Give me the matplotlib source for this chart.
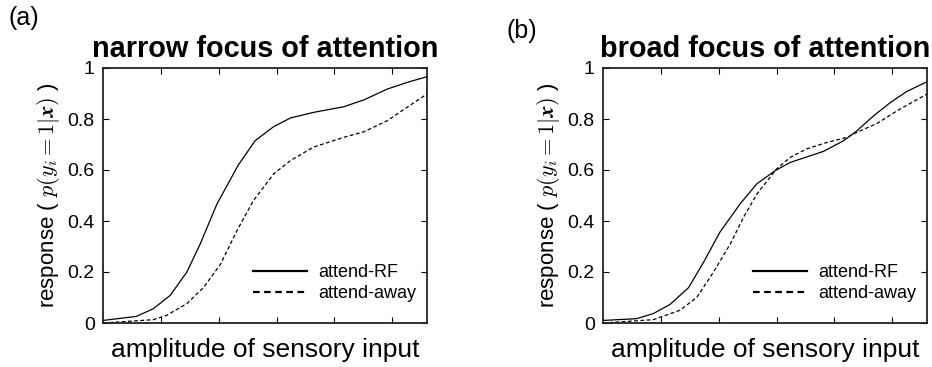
import matplotlib
matplotlib.use("Agg")
import matplotlib.pyplot as plt

plt.rcParams['font.family'] = ['Liberation Sans', 'DejaVu Sans']
plt.rcParams['mathtext.fontset'] = 'cm'

# ---- data ----
a_rf_x = [0, 0.58, 0.87, 1.16, 1.45, 1.68, 1.97, 2.34, 2.63, 2.95, 3.24, 3.64, 4.16, 4.51, 4.91, 5.25, 5.6]
a_rf_y = [0.01, 0.026, 0.056, 0.108, 0.20, 0.31, 0.467, 0.62, 0.715, 0.77, 0.804, 0.826, 0.848, 0.875, 0.917, 0.943, 0.966]
a_aw_x = [0, 0.87, 1.10, 1.45, 1.74, 2.03, 2.31, 2.60, 2.95, 3.24, 3.64, 4.16, 4.51, 4.91, 5.25, 5.6]
a_aw_y = [0.0, 0.013, 0.03, 0.076, 0.14, 0.23, 0.36, 0.48, 0.585, 0.637, 0.69, 0.728, 0.75, 0.793, 0.845, 0.898]

b_rf_x = [0, 0.58, 0.87, 1.16, 1.48, 1.74, 2.02, 2.37, 2.66, 2.98, 3.24, 3.81, 4.16, 4.39, 4.68, 4.97, 5.25, 5.6]
b_rf_y = [0.01, 0.017, 0.037, 0.073, 0.139, 0.239, 0.356, 0.467, 0.546, 0.598, 0.63, 0.673, 0.715, 0.754, 0.813, 0.865, 0.908, 0.946]
b_aw_x = [0, 0.87, 1.33, 1.62, 1.91, 2.20, 2.43, 2.66, 3.0, 3.24, 3.52, 3.87, 4.22, 4.39, 4.74, 5.08, 5.6]
b_aw_y = [0.0, 0.013, 0.05, 0.10, 0.20, 0.31, 0.415, 0.506, 0.604, 0.65, 0.683, 0.708, 0.728, 0.748, 0.783, 0.832, 0.898]

titles = ["narrow focus of attention", "broad focus of attention"]
panel_labels = ["(a)", "(b)"]
series_labels = ["attend-RF", "attend-away"]
yticks = [0, 0.2, 0.4, 0.6, 0.8, 1]
ytick_labels = ["0", "0.2", "0.4", "0.6", "0.8", "1"]
xticks = [1, 2, 3, 4, 5]
xlabel = "amplitude of sensory input"
ylabel = r"response ( $p(y_i = 1|\mathbfit{x})$ )"

W, H = 932, 367
fig = plt.figure(figsize=(W / 100, H / 100), dpi=100)

axes_px = [(103, 68, 427, 323), (603, 68, 927, 323)]
data = [(a_rf_x, a_rf_y, a_aw_x, a_aw_y), (b_rf_x, b_rf_y, b_aw_x, b_aw_y)]
label_pos = [(8, 25), (507, 38)]

for i, (l, t, r, b) in enumerate(axes_px):
    ax = fig.add_axes([l / W, 1 - b / H, (r - l) / W, (b - t) / H])
    rx, ry, ax_x, ax_y = data[i]
    ax.plot(rx, ry, color='black', lw=0.9, ls='-', label=series_labels[0])
    ax.plot(ax_x, ax_y, color='black', lw=0.9, ls=(0, (3, 2)), label=series_labels[1])
    ax.set_xlim(0, 5.6)
    ax.set_ylim(0, 1)
    ax.set_xticks(xticks)
    ax.set_xticklabels([])
    ax.set_yticks(yticks)
    ax.set_yticklabels(ytick_labels)
    ax.tick_params(direction='in', length=4, width=0.8, top=True, right=True,
                   labelsize=14, pad=6)
    for s in ax.spines.values():
        s.set_linewidth(1.3)
        s.set_color('#222222')
    ax.set_title(titles[i], fontsize=20.8, fontweight='bold', pad=8)
    ax.set_xlabel(xlabel, fontsize=19, labelpad=5)
    ax.set_ylabel(ylabel, fontsize=16, labelpad=4)
    leg = ax.legend(loc='lower right', frameon=False, fontsize=13,
                    handlelength=3.0, handletextpad=0.6, labelspacing=0.2,
                    bbox_to_anchor=(1.0, 0.04), borderaxespad=0.2)
    for ln in leg.get_lines():
        ln.set_linewidth(1.6)
    fig.text(label_pos[i][0] / W, 1 - label_pos[i][1] / H, panel_labels[i],
             fontsize=18, ha='left', va='baseline')

fig.savefig("out.png", dpi=100)
